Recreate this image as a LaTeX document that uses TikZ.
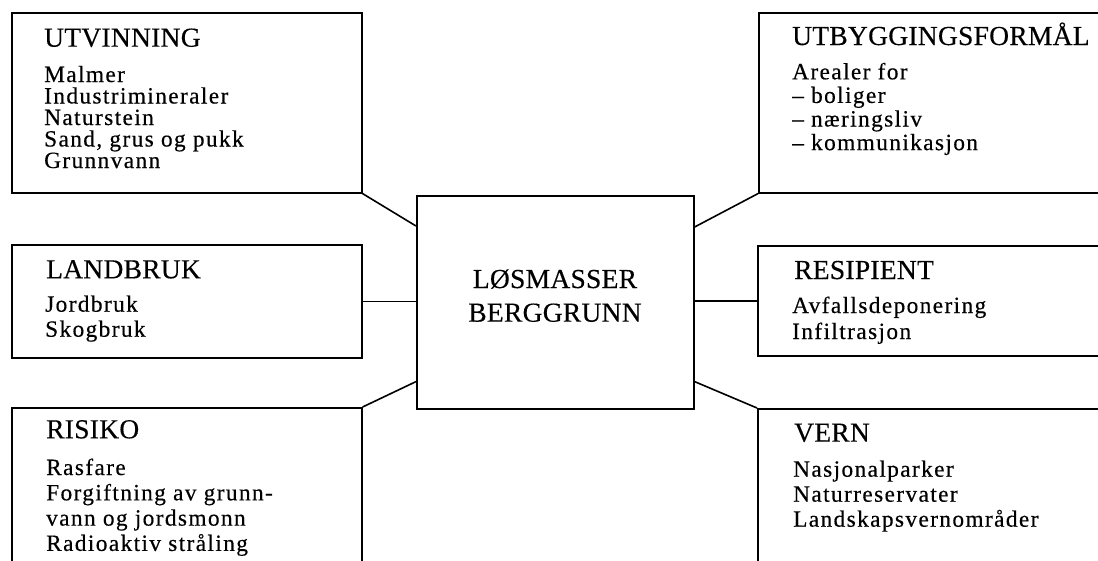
\documentclass[tikz,border=0pt]{standalone}
\usepackage{fontspec}
\setmainfont{Liberation Serif}
\newfontfamily\bodyfam{Liberation Serif}[LetterSpace=6,FakeBold=0.4]
\newfontfamily\titlefam{Liberation Serif}[LetterSpace=1,FakeBold=0.3]
\usetikzlibrary{calc}
\tikzset{
  box/.style={draw, line width=1.6pt, rectangle, inner sep=0pt, anchor=north west},
  title/.style={anchor=base west, inner sep=0pt, font=\titlefam\fontsize{27.5}{30}\selectfont},
  body/.style={anchor=base west, inner sep=0pt, font=\bodyfam\fontsize{23.3}{25}\selectfont},
  ctitle/.style={anchor=base, inner sep=0pt, font=\titlefam\fontsize{27.5}{30}\selectfont},
  link/.style={line width=1.6pt}
}
\begin{document}
\begin{tikzpicture}[x=1pt,y=-1pt]
\useasboundingbox (0,0) rectangle (1098,560);
\fill[white] (0,0) rectangle (1098,560);
\clip (0,0) rectangle (1098,560);

% boxes
\node[box, minimum width=350pt, minimum height=180pt] (utv) at (11,12) {};
\node[box, minimum width=350pt, minimum height=113pt] (land) at (11,244) {};
\node[box, minimum width=350pt, minimum height=180pt] (ris) at (11,407) {};
\node[box, minimum width=277pt, minimum height=213pt] (cen) at (416,195) {};
\node[box, minimum width=360pt, minimum height=180pt] (utb) at (758,12) {};
\node[box, minimum width=360pt, minimum height=110pt] (res) at (757,245) {};
\node[box, minimum width=360pt, minimum height=180pt] (vern) at (757,408) {};

% connectors
\draw[link] (utv.south east) -- ([yshift=-31pt]cen.north west);
\draw[link] (land.east) -- (land.east -| cen.west);
\draw[link] (ris.north east) -- ([yshift=28pt]cen.south west);
\draw[link] (utb.south west) -- ([yshift=-32pt]cen.north east);
\draw[link] (res.west) -- (res.west -| cen.east);
\draw[link] (vern.north west) -- ([yshift=28pt]cen.south east);

% centre text
\node[ctitle] (c-1) at (555,288) {LØSMASSER};
\node[ctitle] (c-2) at (555,321.7) {BERGGRUNN};

% UTVINNING
\node[title] (utv-t) at (44,46.7) {UTVINNING};
\foreach \t [count=\i from 0] in {Malmer, Industrimineraler, Naturstein, {Sand, grus og pukk}, Grunnvann}
  \node[body] (utv-\i) at (44,{82+21.5*\i}) {\t};

% LANDBRUK
\node[title] (land-t) at (46,278.3) {LANDBRUK};
\foreach \t [count=\i from 0] in {Jordbruk, Skogbruk}
  \node[body] (land-\i) at (45,{311.7+25*\i}) {\t};

% RISIKO
\node[title] (ris-t) at (46,438.3) {RISIKO};
\foreach \t [count=\i from 0] in {Rasfare, Forgiftning av grunn-, vann og jordsmonn, Radioaktiv stråling}
  \node[body] (ris-\i) at (46,{475+25.3*\i}) {\t};

% UTBYGGINGSFORMÅL
\node[title] (utb-t) at (792,45) {UTBYGGINGSFORMÅL};
\foreach \t [count=\i from 0] in {Arealer for, – boliger, – næringsliv, – kommunikasjon}
  \node[body] (utb-\i) at (792,{79.3+23.6*\i}) {\t};

% RESIPIENT
\node[title] (res-t) at (794,279) {RESIPIENT};
\foreach \t [count=\i from 0] in {Avfallsdeponering, Infiltrasjon}
  \node[body] (res-\i) at (792,{313+26*\i}) {\t};

% VERN
\node[title] (vern-t) at (794,441.7) {VERN};
\foreach \t [count=\i from 0] in {Nasjonalparker, Naturreservater, Landskapsvernområder}
  \node[body] (vern-\i) at (793,{476.7+25*\i}) {\t};
\end{tikzpicture}
\end{document}
